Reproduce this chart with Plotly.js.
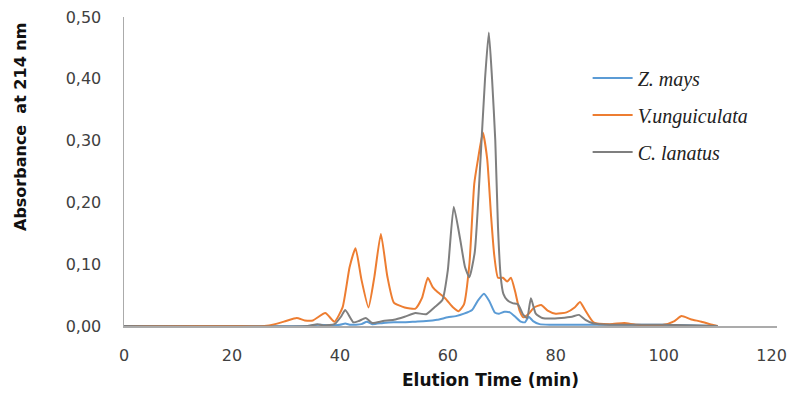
<!DOCTYPE html>
<html>
<head>
<meta charset="utf-8">
<script src="https://cdn.plot.ly/plotly-3.0.1.min.js"></script>
<style>html,body{margin:0;padding:0;background:#fff;}#chart{width:795px;height:396px;}</style>
</head>
<body>
<div id="chart"></div>
<script>
// Elution time (min) and absorbance at 214 nm
const seriesNames = ["Z. mays", "V.unguiculata", "C. lanatus"];

const timeZmays = [0,34,36,38,40,41,42,44,45,46,48,50,52,54,56,58,60,61.5,63,64.5,65.5,66.7,67.7,68.7,69.5,70.5,71.5,72.5,73.5,74.3,75,75.8,77,79,90,100,110];
const absZmays  = [0,0,0.002,0.001,0.002,0.004,0.002,0.003,0.007,0.003,0.005,0.006,0.006,0.007,0.008,0.010,0.014,0.016,0.020,0.026,0.040,0.052,0.040,0.022,0.020,0.023,0.022,0.015,0.007,0.006,0.015,0.008,0.003,0.002,0.002,0.002,0];

const timeVung = [0,20,26,28,30,32,33.5,35,37.3,39,40.5,41.8,42.9,44,45.3,46.4,47.6,48.8,50,52,54,55.2,56.3,57.2,58.1,59.5,61,62,63,64,64.9,65.6,66.5,67.3,68,68.6,69.3,70.2,71,71.7,72.5,73.3,74,75,76,77.3,78.5,80,82,83.5,84.5,85.5,87,90,92.7,95,100,102,103.3,105,107,109,110];
const absVung  = [0,0,0,0.003,0.008,0.013,0.009,0.009,0.021,0.007,0.030,0.095,0.126,0.075,0.030,0.080,0.149,0.080,0.038,0.030,0.028,0.045,0.078,0.063,0.055,0.045,0.030,0.024,0.035,0.100,0.230,0.270,0.313,0.270,0.180,0.115,0.078,0.078,0.072,0.078,0.055,0.025,0.014,0.020,0.030,0.034,0.025,0.020,0.022,0.030,0.039,0.025,0.006,0.003,0.005,0.002,0.002,0.008,0.016,0.011,0.007,0.002,0];

const timeClan = [0,34,35.8,37,39,40.2,41,42.5,43.5,44.8,46,48,50,52,54,56,57.5,59,60,61.1,62.3,63.2,64,65,66,66.9,67.6,68.2,68.8,69.3,69.8,70.3,71,72,73,74,74.7,75.4,76.3,77.5,79,81,83,84.3,85.5,87,90,100,110];
const absClan  = [0,0,0.003,0.001,0.003,0.015,0.026,0.006,0.008,0.013,0.005,0.008,0.010,0.015,0.021,0.019,0.030,0.042,0.090,0.193,0.140,0.095,0.079,0.120,0.260,0.400,0.475,0.400,0.300,0.160,0.080,0.052,0.042,0.037,0.035,0.018,0.013,0.045,0.020,0.013,0.012,0.013,0.015,0.018,0.010,0.004,0.002,0.002,0];

const xTicks = [0,20,40,60,80,100,120];
const yTicks = [0,0.1,0.2,0.3,0.4,0.5];

const colors = ["#5B9BD5", "#ED7D31", "#7F7F7F"];
const xs = [timeZmays, timeVung, timeClan];
const ys = [absZmays, absVung, absClan];

const traces = seriesNames.map((n, i) => ({
  x: xs[i], y: ys[i], name: n, type: "scatter", mode: "lines",
  legendgroup: "g" + i,
  line: {color: colors[i], width: 2, shape: "spline", smoothing: 0.5}
}));

const layout = {
  width: 795, height: 396,
  margin: {l: 124, r: 18, t: 17, b: 70},
  paper_bgcolor: "#fff", plot_bgcolor: "#fff",
  separators: ",.",
  showlegend: true,
  legend: {
    x: 0.71, y: 0.866, xanchor: "left", yanchor: "top",
    font: {family: "Liberation Serif, Times New Roman, serif", size: 20, color: "#222", style: "italic"},
    itemwidth: 40, traceorder: "grouped", tracegroupgap: 8,
    bgcolor: "rgba(0,0,0,0)"
  },
  xaxis: {
    range: [0, 121], tickvals: xTicks, showgrid: false, zeroline: false,
    showline: true, linecolor: "#ababab", linewidth: 1.5,
    ticks: "outside", ticklen: 14, tickcolor: "rgba(0,0,0,0)",
    tickfont: {family: "DejaVu Sans, sans-serif", size: 16, color: "#404040"}
  },
  yaxis: {
    range: [0, 0.5], tickvals: yTicks, tickformat: ".2f", showgrid: false, zeroline: false,
    showline: true, linecolor: "#ababab", linewidth: 1.5,
    ticks: "outside", ticklen: 18, tickcolor: "rgba(0,0,0,0)",
    tickfont: {family: "DejaVu Sans, sans-serif", size: 16, color: "#404040"}
  },
  annotations: [
    {text: "<b>Elution Time (min)</b>", xref: "paper", yref: "paper",
     x: (490 - 124) / 653, y: -(380 - 326) / 309, xanchor: "center", yanchor: "middle",
     showarrow: false, font: {family: "DejaVu Sans, sans-serif", size: 17, color: "#111"}},
    {text: "<b>Absorbance  at 214 nm</b>", xref: "paper", yref: "paper", textangle: -90,
     x: (20 - 124) / 653, y: (326 - 127) / 309, xanchor: "center", yanchor: "middle",
     showarrow: false, font: {family: "DejaVu Sans, sans-serif", size: 16, color: "#111"}}
  ]
};

Plotly.newPlot("chart", traces, layout, {displayModeBar: false, staticPlot: true});
</script>
</body>
</html>
